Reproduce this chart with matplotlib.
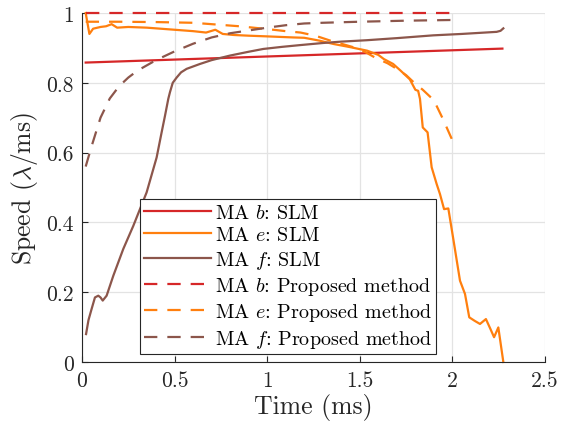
import matplotlib
matplotlib.use("Agg")
import matplotlib.pyplot as plt

plt.rcParams['font.family'] = ['cmr10', 'DejaVu Serif']
plt.rcParams['mathtext.fontset'] = 'cm'
plt.rcParams['axes.unicode_minus'] = False
plt.rcParams['axes.formatter.use_mathtext'] = True

# ---- data ----
b_slm_x = [0.02, 2.27]
b_slm_y = [0.858, 0.898]

e_slm_x = [0.02, 0.03, 0.04, 0.06, 0.1, 0.13, 0.16, 0.19, 0.25, 0.35, 0.5, 0.6, 0.67,
           0.72, 0.76, 0.82, 0.9, 1.0, 1.14, 1.2, 1.28, 1.36, 1.45, 1.54, 1.6, 1.63,
           1.68, 1.72, 1.77, 1.8, 1.815, 1.825, 1.84, 1.866, 1.888, 1.915, 1.933,
           1.955, 1.978, 2.005, 2.041, 2.068, 2.091, 2.12, 2.149, 2.181, 2.205,
           2.225, 2.248, 2.275]
e_slm_y = [1.0, 0.97, 0.94, 0.955, 0.96, 0.962, 0.968, 0.958, 0.96, 0.958, 0.952,
           0.948, 0.944, 0.952, 0.94, 0.937, 0.935, 0.933, 0.93, 0.929, 0.921, 0.911,
           0.902, 0.892, 0.88, 0.868, 0.854, 0.835, 0.81, 0.78, 0.777, 0.754, 0.672,
           0.658, 0.558, 0.51, 0.481, 0.438, 0.44, 0.352, 0.233, 0.195, 0.128, 0.118,
           0.109, 0.123, 0.095, 0.071, 0.099, 0.0]

f_slm_x = [0.022, 0.035, 0.052, 0.07, 0.088, 0.1, 0.112, 0.133, 0.169, 0.223, 0.277,
           0.349, 0.403, 0.43, 0.448, 0.466, 0.475, 0.49, 0.511, 0.535, 0.565, 0.637,
           0.7, 0.799, 0.9, 0.979, 1.08, 1.177, 1.3, 1.4, 1.537, 1.7, 1.897, 2.05,
           2.239, 2.26, 2.275]
f_slm_y = [0.08, 0.12, 0.152, 0.185, 0.19, 0.185, 0.176, 0.19, 0.247, 0.324, 0.39,
           0.486, 0.586, 0.658, 0.705, 0.754, 0.773, 0.8, 0.815, 0.83, 0.84, 0.854,
           0.865, 0.878, 0.889, 0.897, 0.903, 0.908, 0.914, 0.918, 0.922, 0.928,
           0.936, 0.94, 0.946, 0.949, 0.956]

b_prop_x = [0.02, 2.0]
b_prop_y = [1.0, 1.0]

e_prop_x = [0.02, 0.2, 0.4, 0.6, 0.7, 0.85, 1.0, 1.1, 1.18, 1.26, 1.34, 1.4, 1.465,
            1.53, 1.59, 1.65, 1.7, 1.75, 1.79, 1.84, 1.9, 1.95, 2.0]
e_prop_y = [0.975, 0.975, 0.974, 0.972, 0.968, 0.962, 0.954, 0.948, 0.944, 0.935,
            0.921, 0.912, 0.902, 0.888, 0.87, 0.856, 0.84, 0.822, 0.802, 0.78, 0.75,
            0.695, 0.635]

f_prop_x = [0.02, 0.05, 0.1, 0.15, 0.2, 0.25, 0.3, 0.35, 0.4, 0.5, 0.6, 0.7, 0.8,
            0.9, 1.0, 1.1, 1.2, 1.3, 1.5, 1.75, 2.0]
f_prop_y = [0.56, 0.615, 0.70, 0.755, 0.79, 0.815, 0.835, 0.85, 0.865, 0.89, 0.912,
            0.93, 0.942, 0.95, 0.958, 0.965, 0.97, 0.972, 0.975, 0.978, 0.98]

xticks = [0, 0.5, 1, 1.5, 2, 2.5]
xticklabels = ['0', '0.5', '1', '1.5', '2', '2.5']
yticks = [0, 0.2, 0.4, 0.6, 0.8, 1]
yticklabels = ['0', '0.2', '0.4', '0.6', '0.8', '1']

labels = ['MA $b$: SLM', 'MA $e$: SLM', 'MA $f$: SLM',
          'MA $b$: Proposed method', 'MA $e$: Proposed method',
          'MA $f$: Proposed method']

red = '#d62728'
orange = '#ff7f0e'
brown = '#8c564b'

fig = plt.figure(figsize=(5.67, 4.27), dpi=100)
ax = fig.add_axes([0.1446, 0.1499, 0.8166, 0.8173])

lw = 1.6
dash = (6, 4.5)
ax.plot(b_slm_x, b_slm_y, color=red, lw=lw, label=labels[0], clip_on=False)
ax.plot(e_slm_x, e_slm_y, color=orange, lw=lw, label=labels[1], clip_on=False)
ax.plot(f_slm_x, f_slm_y, color=brown, lw=lw, label=labels[2], clip_on=False)
ax.plot(b_prop_x, b_prop_y, color=red, lw=lw, ls=(0, dash), label=labels[3], clip_on=False)
ax.plot(e_prop_x, e_prop_y, color=orange, lw=lw, ls=(0, dash), label=labels[4], clip_on=False)
ax.plot(f_prop_x, f_prop_y, color=brown, lw=lw, ls=(0, dash), label=labels[5], clip_on=False)

ax.set_xlim(0, 2.5)
ax.set_ylim(0, 1)
ax.set_xticks(xticks)
ax.set_xticklabels(xticklabels)
ax.set_yticks(yticks)
ax.set_yticklabels(yticklabels)

ax.grid(True, color='#e3e3e3', lw=0.9)
ax.set_axisbelow(True)
for s in ['top', 'right']:
    ax.spines[s].set_visible(False)
for s in ['left', 'bottom']:
    ax.spines[s].set_color('#262626')
    ax.spines[s].set_linewidth(0.8)
ax.tick_params(direction='in', length=4, width=0.8, colors='#262626',
               labelsize=15.5, pad=6)

ax.set_xlabel('Time (ms)', fontsize=18.5, color='#262626', labelpad=2)
ax.set_ylabel('Speed ($\\lambda$/ms)', fontsize=18.5, color='#262626', labelpad=4)

leg = ax.legend(loc='lower left', bbox_to_anchor=(0.125, 0.022, 0.64, 0.44),
                mode='expand', fontsize=14.5, handlelength=3.3, handletextpad=0.2,
                labelspacing=0.22, borderpad=0.22, borderaxespad=0.0,
                fancybox=False, framealpha=1.0, edgecolor='#262626')
leg.get_frame().set_linewidth(0.8)

fig.savefig('out.png', dpi=100)
